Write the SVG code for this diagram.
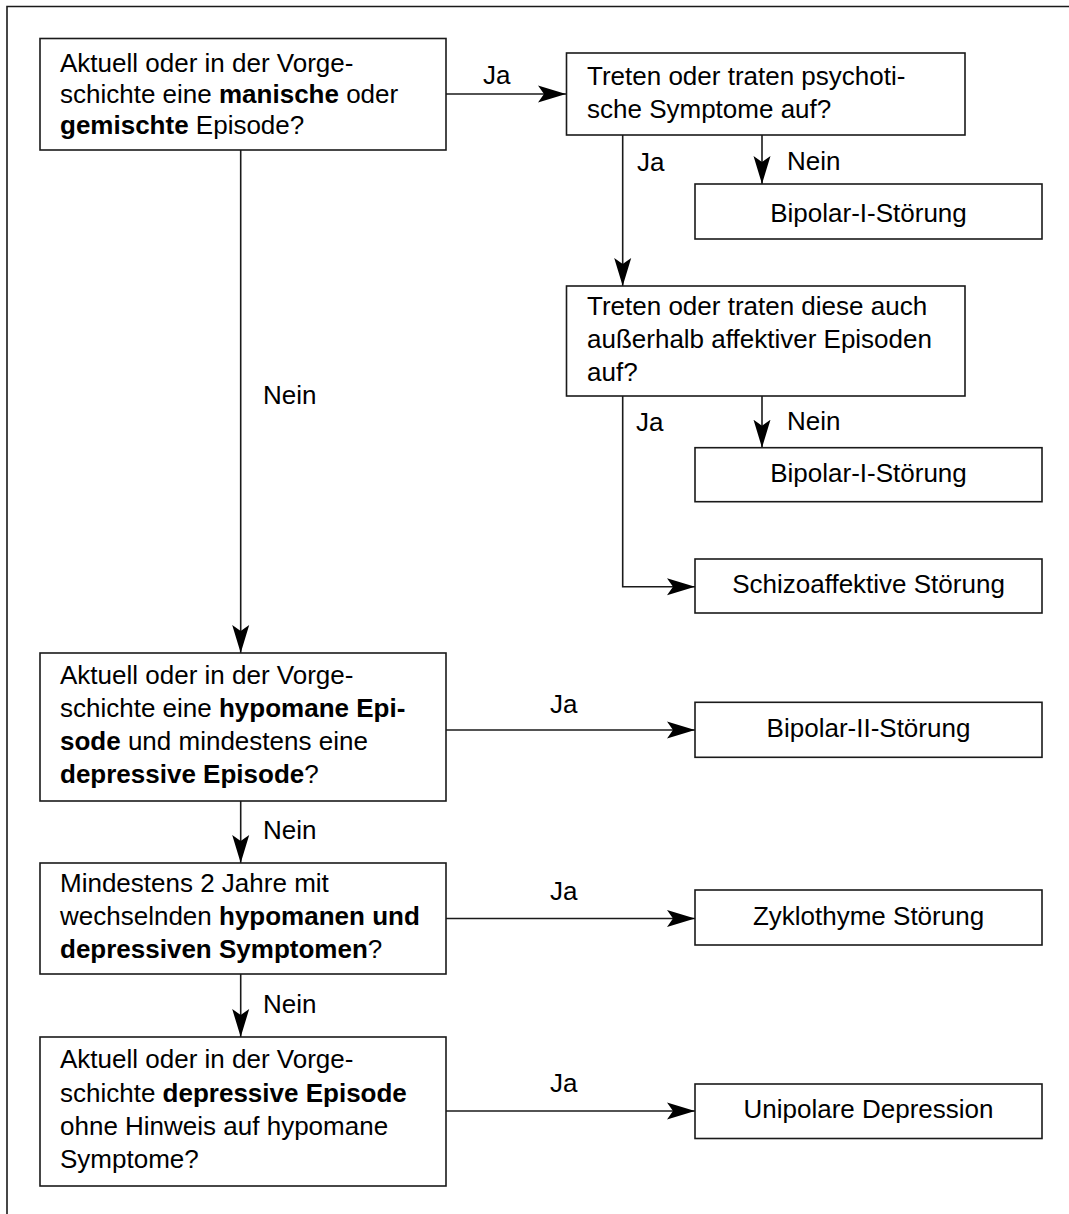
<svg xmlns="http://www.w3.org/2000/svg" width="1069" height="1214" viewBox="0 0 1069 1214">
<defs>
<style>
.box{fill:#fff;stroke:#1a1a1a;stroke-width:1.6}
.ln{fill:none;stroke:#1a1a1a;stroke-width:1.6}
text{font-family:"Liberation Sans",Arial,Helvetica,sans-serif;font-size:26px;fill:#000}
.b{font-weight:bold}
.c{text-anchor:middle}
</style>
<marker id="ah" markerUnits="userSpaceOnUse" markerWidth="28" markerHeight="18" viewBox="0 0 28 18" refX="28" refY="9" orient="auto">
<path d="M0,0.5 L28,9 L0,17.5 L6,9 Z" fill="#000"/>
</marker>
</defs>
<rect width="1069" height="1214" fill="#fff"/>
<path class="ln" d="M7,1214 V6.5 H1069"/>

<g id="connectors">
<path class="ln" d="M446,94 H566" marker-end="url(#ah)"/>
<path class="ln" d="M622.7,135 V286" marker-end="url(#ah)"/>
<path class="ln" d="M762,135 V184" marker-end="url(#ah)"/>
<path class="ln" d="M762,396 V447.7" marker-end="url(#ah)"/>
<path class="ln" d="M622.7,396 V586.7 H695" marker-end="url(#ah)"/>
<path class="ln" d="M240.7,150 V653" marker-end="url(#ah)"/>
<path class="ln" d="M446,730 H695" marker-end="url(#ah)"/>
<path class="ln" d="M240.7,801 V863" marker-end="url(#ah)"/>
<path class="ln" d="M446,918.5 H695" marker-end="url(#ah)"/>
<path class="ln" d="M240.7,974 V1037" marker-end="url(#ah)"/>
<path class="ln" d="M446,1111 H695" marker-end="url(#ah)"/>
<text x="483" y="84">Ja</text>
<text x="637" y="171">Ja</text>
<text x="787" y="170">Nein</text>
<text x="636" y="431">Ja</text>
<text x="787" y="430">Nein</text>
<text x="263" y="404">Nein</text>
<text x="550" y="713">Ja</text>
<text x="263" y="839">Nein</text>
<text x="550" y="900">Ja</text>
<text x="263" y="1013">Nein</text>
<text x="550" y="1092">Ja</text>
</g>

<g id="q1">
<rect class="box" x="40" y="38.5" width="406" height="111.5"/>
<text x="60" y="72">Aktuell oder in der Vorge-</text>
<text x="60" y="103">schichte eine <tspan class="b">manische</tspan> oder</text>
<text x="60" y="134"><tspan class="b">gemischte</tspan> Episode?</text>
</g>

<g id="q2">
<rect class="box" x="566.5" y="53" width="398.5" height="82"/>
<text x="587" y="85">Treten oder traten psychoti-</text>
<text x="587" y="118">sche Symptome auf?</text>
</g>

<g id="r1">
<rect class="box" x="695" y="184" width="347" height="55"/>
<text class="c" x="868.5" y="221.7">Bipolar-I-Störung</text>
</g>

<g id="q3">
<rect class="box" x="566.5" y="286" width="398.5" height="110"/>
<text x="587" y="315">Treten oder traten diese auch</text>
<text x="587" y="348">außerhalb affektiver Episoden</text>
<text x="587" y="381">auf?</text>
</g>

<g id="r2">
<rect class="box" x="695" y="447.7" width="347" height="54"/>
<text class="c" x="868.5" y="481.7">Bipolar-I-Störung</text>
</g>

<g id="r3">
<rect class="box" x="695" y="559" width="347" height="54"/>
<text class="c" x="868.5" y="593">Schizoaffektive Störung</text>
</g>

<g id="q4">
<rect class="box" x="40" y="653" width="406" height="148"/>
<text x="60" y="684">Aktuell oder in der Vorge-</text>
<text x="60" y="717">schichte eine <tspan class="b">hypomane Epi-</tspan></text>
<text x="60" y="750"><tspan class="b">sode</tspan> und mindestens eine</text>
<text x="60" y="783"><tspan class="b">depressive Episode</tspan>?</text>
</g>

<g id="r4">
<rect class="box" x="695" y="702.3" width="347" height="55"/>
<text class="c" x="868.5" y="736.7">Bipolar-II-Störung</text>
</g>

<g id="q5">
<rect class="box" x="40" y="863" width="406" height="111"/>
<text x="60" y="892">Mindestens 2 Jahre mit</text>
<text x="60" y="925">wechselnden <tspan class="b">hypomanen und</tspan></text>
<text x="60" y="958"><tspan class="b">depressiven Symptomen</tspan>?</text>
</g>

<g id="r5">
<rect class="box" x="695" y="890" width="347" height="55"/>
<text class="c" x="868.5" y="925">Zyklothyme Störung</text>
</g>

<g id="q6">
<rect class="box" x="40" y="1037" width="406" height="149"/>
<text x="60" y="1068">Aktuell oder in der Vorge-</text>
<text x="60" y="1101.5">schichte <tspan class="b">depressive Episode</tspan></text>
<text x="60" y="1135">ohne Hinweis auf hypomane</text>
<text x="60" y="1168">Symptome?</text>
</g>

<g id="r6">
<rect class="box" x="695" y="1084" width="347" height="54.5"/>
<text class="c" x="868.5" y="1118">Unipolare Depression</text>
</g>
</svg>
